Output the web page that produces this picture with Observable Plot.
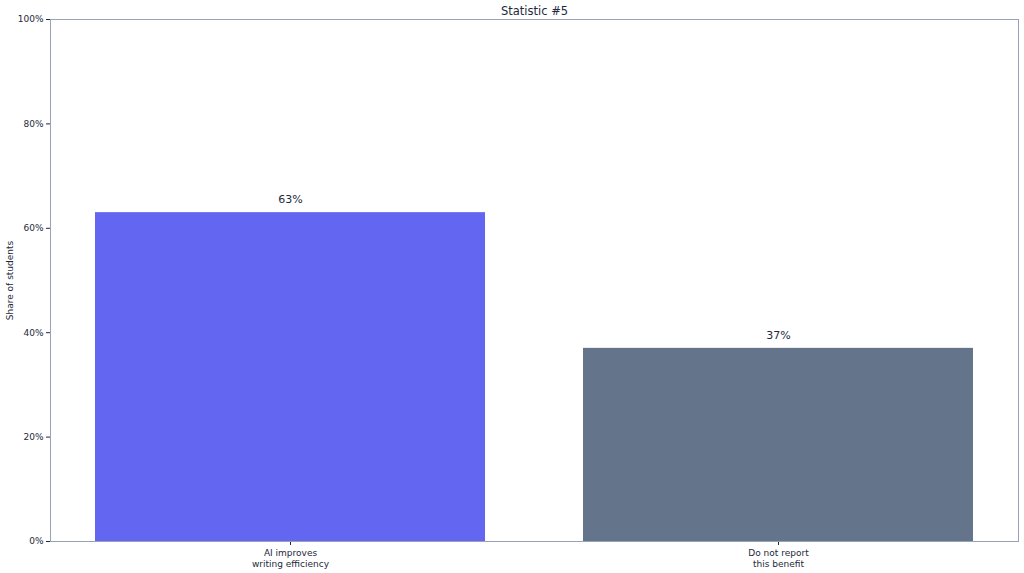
<!DOCTYPE html>
<html><head><meta charset="utf-8">
<script src="https://cdn.jsdelivr.net/npm/d3@7"></script>
<script src="https://cdn.jsdelivr.net/npm/@observablehq/plot@0.6"></script>
<style>
html,body{margin:0;padding:0;background:#fff;}
svg{font-family:"DejaVu Sans",sans-serif;}
</style>
</head><body>
<div id="chart"></div>
<script>
const categories = ["AI improves\nwriting efficiency", "Do not report\nthis benefit"];
const values = [63, 37];
const colors = ["#6366f1", "#64748b"];
const yTicks = [0, 20, 40, 60, 80, 100];
const title = "Statistic #5";
const yLabel = "Share of students";

const data = categories.map((c, i) => ({cat: c, v: values[i], color: colors[i]}));

const chart = Plot.plot({
  width: 1024,
  height: 573,
  marginLeft: 50,
  marginRight: 6,
  marginTop: 19,
  marginBottom: 32,
  style: {fontFamily: "DejaVu Sans, sans-serif", fontSize: "9px", color: "#1e293b", background: "#fff"},
  x: {domain: categories, paddingInner: 0.2, paddingOuter: 0.09, label: null},
  y: {domain: [0, 100], ticks: yTicks, tickFormat: d => d + "%", label: null},
  marks: [
    Plot.barY(data, {x: "cat", y: "v", fill: "color"}),
    Plot.text(data, {x: "cat", y: "v", text: d => d.v + "%", dy: -13, fontSize: 11, fill: "#1e293b"}),
    Plot.axisX({tickSize: 4, stroke: "#1e293b", tickPadding: 3, fontSize: 9, lineHeight: 1.22}),
    Plot.axisY({ticks: yTicks, tickFormat: d => d + "%", tickSize: 4, tickPadding: 3, fontSize: 9, label: null}),
    Plot.frame({stroke: "#94a3b8", strokeWidth: 1}),
    Plot.text([title], {frameAnchor: "top", lineAnchor: "middle", textAnchor: "middle", dy: -8, fontSize: 11.5, fill: "#1e293b"}),
    Plot.text([yLabel], {frameAnchor: "left", textAnchor: "middle", lineAnchor: "middle", dx: -40, rotate: -90, fontSize: 9, fill: "#1e293b"})
  ]
});
document.getElementById("chart").appendChild(chart);
</script>
</body></html>
